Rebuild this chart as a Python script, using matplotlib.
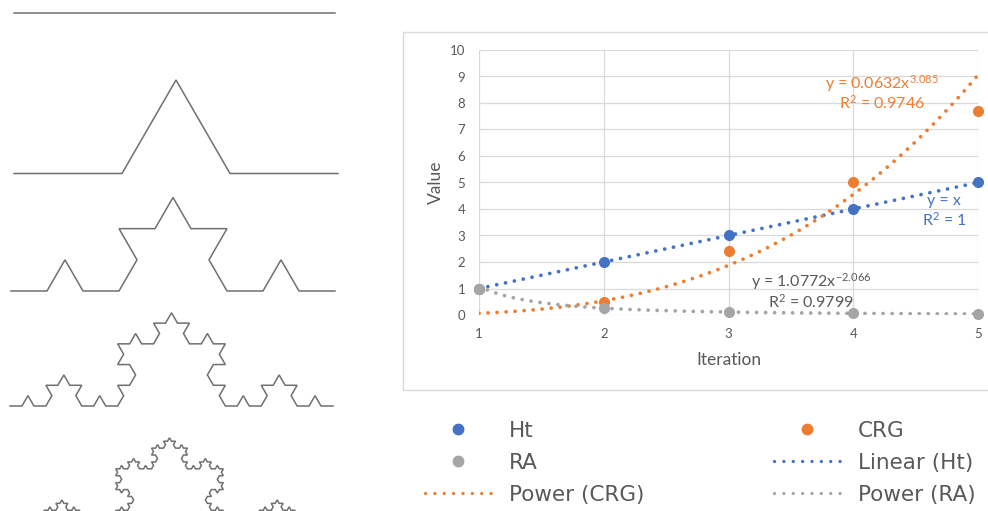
import numpy as np
import matplotlib
matplotlib.use("Agg")
import matplotlib.pyplot as plt
from matplotlib.lines import Line2D
from matplotlib.patches import Rectangle

plt.rcParams['font.family'] = ['Lato', 'DejaVu Sans']
plt.rcParams['mathtext.default'] = 'regular'

# data
iteration = [1, 2, 3, 4, 5]
ht = [1, 2, 3, 4, 5]
crg = [np.nan, 0.5, 2.4, 5.0, 7.7]
ra = [1.0, 0.25, 0.11, 0.06, 0.04]

# trendline coefficients as shown on the chart
crg_fit = (0.0632, 3.085)
ra_fit = (1.0772, -2.066)

koch_levels = [0, 1, 2, 3, 4]

BLUE = '#4472C4'
ORANGE = '#ED7D31'
GRAY = '#A5A5A5'
TXT = '#595959'
GRID = '#D9D9D9'

W, H = 988, 511
fig = plt.figure(figsize=(W / 100, H / 100), dpi=100)

# ---- Koch curves on the left (pixel coordinates) ----
axk = fig.add_axes([0, 0, 1, 1])
axk.set_xlim(0, W)
axk.set_ylim(H, 0)
axk.axis('off')


def koch(p, q, n):
    if n == 0:
        return [p, q]
    d = (q - p) / 3
    a = p + d
    b = p + 2 * d
    c60, s60 = np.cos(np.pi / 3), np.sin(np.pi / 3)
    c = a + np.array([d[0] * c60 - d[1] * s60, d[0] * s60 + d[1] * c60])
    pts = koch(p, a, n - 1)[:-1] + koch(a, c, n - 1)[:-1] + koch(c, b, n - 1)[:-1] + koch(b, q, n - 1)
    return pts


k_x0 = [14, 14, 11, 10, 8]
k_x1 = [335, 338, 335, 333, 331]
k_base = [13, 173.5, 291, 406, 531]
for lev, x0, x1, yb in zip(koch_levels, k_x0, k_x1, k_base):
    pts = np.array(koch(np.array([x0, 0.0]), np.array([x1, 0.0]), lev))
    axk.plot(pts[:, 0], yb - pts[:, 1], color='#707070', lw=1.1, solid_joinstyle='miter')

# ---- chart frame ----
fig.add_artist(Rectangle((403 / W, 1 - 390 / H), 700 / W, (390 - 32) / H,
                         transform=fig.transFigure, fill=False, edgecolor=GRID, lw=1))

# ---- chart ----
ax = fig.add_axes([479 / W, 1 - 315 / H, (978 - 479) / W, (315 - 50) / H])
ax.patch.set_visible(False)
ax.set_xlim(1, 5)
ax.set_ylim(0, 10)
ax.set_xticks(iteration)
ax.set_yticks(range(0, 11))
ax.grid(True, color=GRID, lw=0.9)
ax.set_axisbelow(True)
for s in ax.spines.values():
    s.set_visible(False)
ax.tick_params(length=0, labelsize=9.5, colors=TXT)
ax.tick_params(axis='x', pad=9)
ax.tick_params(axis='y', pad=10)
ax.set_xlabel('Iteration', fontsize=12.5, color=TXT, labelpad=9)
ax.set_ylabel('Value', fontsize=12.5, color=TXT, labelpad=4)

dot = dict(linestyle=(0, (0.01, 2.4)), dash_capstyle='round', lw=2.7)
xs = np.linspace(1, 5, 200)
ht_fit = np.polyfit(iteration, ht, 1)
ax.plot(xs, np.polyval(ht_fit, xs), color=BLUE, **dot)
ax.plot(xs, crg_fit[0] * xs ** crg_fit[1], color=ORANGE, **dot)
ax.plot(xs, ra_fit[0] * xs ** ra_fit[1], color=GRAY, **dot)

ms = 7
ax.plot(iteration, ht, 'o', color=BLUE, ms=ms, clip_on=False)
ax.plot(iteration, crg, 'o', color=ORANGE, ms=ms, clip_on=False)
ax.plot(iteration, ra, 'o', color=GRAY, ms=ms, clip_on=False)

fs = 11.5
ax.text(4.23, 8.75, r'y = 0.0632x$^{3.085}$', color=ORANGE, fontsize=fs, ha='center', va='center')
ax.text(4.23, 8.0, r'R$^{2}$ = 0.9746', color=ORANGE, fontsize=fs, ha='center', va='center')
ax.text(4.73, 4.3, 'y = x', color=BLUE, fontsize=fs, ha='center', va='center')
ax.text(4.73, 3.58, r'R$^{2}$ = 1', color=BLUE, fontsize=fs, ha='center', va='center')
ax.text(3.66, 1.25, r'y = 1.0772x$^{-2.066}$', color=TXT, fontsize=fs, ha='center', va='center')
ax.text(3.66, 0.49, r'R$^{2}$ = 0.9799', color=TXT, fontsize=fs, ha='center', va='center')

# ---- legend (two columns, filled row by row) ----
mk = dict(marker='o', linestyle='none', ms=7.5)
ls_leg = dict(linestyle=(0, (0.01, 2.8)), dash_capstyle='round', lw=2.4)
h_ht = Line2D([], [], color=BLUE, **mk)
h_crg = Line2D([], [], color=ORANGE, **mk)
h_ra = Line2D([], [], color=GRAY, **mk)
h_lin = Line2D([], [], color=BLUE, **ls_leg)
h_pc = Line2D([], [], color=ORANGE, **ls_leg)
h_pr = Line2D([], [], color=GRAY, **ls_leg)

leg_kw = dict(loc='upper left', frameon=False,
              prop={'family': ['DejaVu Sans'], 'size': 15.5},
              handlelength=3.1, handletextpad=0.8,
              labelspacing=0.55, borderpad=0, borderaxespad=0)
leg1 = fig.legend([h_ht, h_ra, h_pc], ['Ht', 'RA', 'Power (CRG)'],
                  bbox_to_anchor=(425 / W, 1 - 421 / H), **leg_kw)
leg2 = fig.legend([h_crg, h_lin, h_pr], ['CRG', 'Linear (Ht)', 'Power (RA)'],
                  bbox_to_anchor=(774 / W, 1 - 421 / H), **leg_kw)
for lg in (leg1, leg2):
    for t in lg.get_texts():
        t.set_color(TXT)

fig.savefig('out.png', dpi=100)
